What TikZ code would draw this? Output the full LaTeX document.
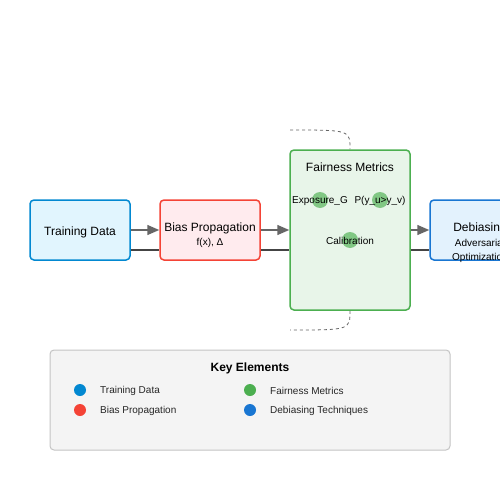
\documentclass[tikz,border=0pt]{standalone}
\usepackage{fontspec}
\setmainfont{Liberation Sans}
\usetikzlibrary{arrows.meta}
\definecolor{tdblue}{HTML}{0288D1}
\definecolor{tdfill}{HTML}{E1F5FE}
\definecolor{bpred}{HTML}{F44336}
\definecolor{bpfill}{HTML}{FFEBEE}
\definecolor{fmgreen}{HTML}{4CAF50}
\definecolor{fmfill}{HTML}{E8F5E9}
\definecolor{fmdot}{HTML}{81C784}
\definecolor{dbblue}{HTML}{1976D2}
\definecolor{dbfill}{HTML}{E3F2FD}
\definecolor{arrowgray}{HTML}{666666}
\definecolor{linkdark}{HTML}{444444}
\definecolor{keyfill}{HTML}{F4F4F4}
\definecolor{keyborder}{HTML}{C4C4C4}
\newcommand{\stagefont}{\fontsize{12}{14}\selectfont}
\newcommand{\detailfont}{\fontsize{10}{12}\selectfont}

\begin{document}
\begin{tikzpicture}[x=1pt,y=-1pt]

	\tikzstyle{stage}=[rectangle, rounded corners=4pt, line width=1.5pt, minimum width=100pt, minimum height=60pt, inner sep=0pt]
	\tikzstyle{txt}=[inner sep=0pt, font=\stagefont, text=black]
	\tikzstyle{subtxt}=[inner sep=0pt, font=\detailfont, text=black]
	\tikzstyle{flow}=[-{Triangle[length=12pt,width=10pt]}, line width=1.5pt, color=arrowgray]
	\tikzstyle{link}=[line width=2pt, color=linkdark]
	\tikzstyle{feedback}=[dashed, line width=0.8pt, color=arrowgray]
	\tikzstyle{metric}=[circle, fill=fmdot, minimum size=16pt, inner sep=0pt]
	\tikzstyle{key}=[circle, minimum size=12pt, inner sep=0pt]
	\tikzstyle{keytxt}=[inner sep=0pt, anchor=west, font=\detailfont, text=black!85]

	\useasboundingbox (0,0) rectangle (500,500);
	\clip (0,0) rectangle (500,500);

	% stages
	\node[stage, draw=tdblue, fill=tdfill] (train) at (80,230) {};
	\node[txt] (trainT) at (80,232) {Training Data};

	\node[stage, draw=bpred, fill=bpfill] (bias) at (210,230) {};
	\node[txt] (biasT) at (210,228) {Bias Propagation};
	\node[subtxt] (biasF) at (210,243) {f(x), Δ};

	\node[stage, draw=fmgreen, fill=fmfill, minimum width=120pt, minimum height=160pt] (fair) at (350,230) {};
	\node[txt] (fairT) at (350,167) {Fairness Metrics};
	\node[metric] (expo) at (320,200) {};
	\node[metric] (pair) at (380,200) {};
	\node[metric] (cali) at (350,240) {};
	\node[subtxt] (expoT) at (320,201) {Exposure\_G};
	\node[subtxt] (pairT) at (380,201) {P(y\_u>y\_v)};
	\node[subtxt] (caliT) at (350,241) {Calibration};

	\node[stage, draw=dbblue, fill=dbfill] (debias) at (480,230) {};
	\node[txt] (debiasT) at (480,228) {Debiasing};
	\node[subtxt] (debiasA) at (480,243) {Adversarial};
	\node[subtxt] (debiasO) at (480,258) {Optimization};

	% connexions
	\draw[flow] (train.east) -- (bias.west);
	\draw[flow] (bias.east) -- (fair.west);
	\draw[flow] (fair.east) -- (debias.west);
	\draw[link] ([yshift=-20pt]train.east) -- ([yshift=-20pt]bias.west);
	\draw[link] ([yshift=-20pt]bias.east) -- ([yshift=-20pt]fair.west);
	\draw[link] ([yshift=-20pt]fair.east) -- ([yshift=-20pt]debias.west);

	\coordinate (fbIn) at (290,130);
	\coordinate (fbOut) at (290,330);
	\draw[feedback] (fbIn) .. controls (350,130) .. (fair.north);
	\draw[feedback] (fair.south) .. controls (350,330) .. (fbOut);

	% legende
	\node[rectangle, rounded corners=4pt, draw=keyborder, fill=keyfill, line width=1pt, minimum width=400pt, minimum height=100pt] (legend) at (250,400) {};
	\node[inner sep=0pt, font=\bfseries\stagefont] (legendT) at (250,368) {Key Elements};
	\node[key, fill=tdblue] (k1) at (80,390) {};
	\node[key, fill=bpred] (k2) at (80,410) {};
	\node[key, fill=fmgreen] (k3) at (250,390) {};
	\node[key, fill=dbblue] (k4) at (250,410) {};
	\node[keytxt] (k1T) at (100,391) {Training Data};
	\node[keytxt] (k2T) at (100,411) {Bias Propagation};
	\node[keytxt] (k3T) at (270,391) {Fairness Metrics};
	\node[keytxt] (k4T) at (270,411) {Debiasing Techniques};

\end{tikzpicture}
\end{document}
